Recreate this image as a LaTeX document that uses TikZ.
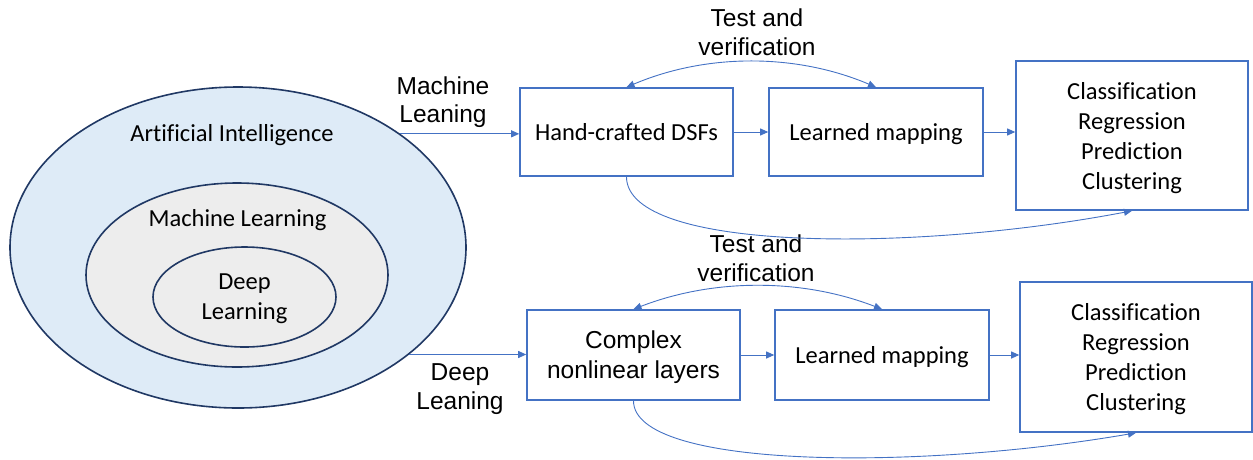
\documentclass[tikz,border=0pt]{standalone}
\usepackage{fontspec}
\setmainfont{Carlito}[Ligatures=CommonOff]
\newfontfamily\arialfont{Liberation Sans}[Ligatures=CommonOff]
\usetikzlibrary{shapes.geometric,arrows.meta}
\definecolor{boxblue}{HTML}{4472C4}
\definecolor{ringnavy}{HTML}{203864}
\definecolor{aifill}{HTML}{DEEBF7}
\definecolor{mlfill}{HTML}{EDEDED}

\begin{document}
\begin{tikzpicture}[x=1pt, y=-1pt, >={Triangle[length=8pt,width=7pt]},
  every node/.style={font=\fontsize{24.5}{30}\selectfont, align=center},
  ring/.style={ellipse, draw=ringnavy, line width=1.6pt, inner sep=0pt},
  stage/.style={draw=boxblue, line width=1.6pt, minimum height=88pt, inner sep=0pt, text depth=0pt},
  flow/.style={draw=boxblue, line width=0.9pt},
  lab/.style={font=\arialfont\fontsize{24.5}{28.5}\selectfont}]
\useasboundingbox (0,0) rectangle (1253,459);

% nested sets
\node[ring, fill=aifill, minimum width=456pt, minimum height=321pt] (ai) at (238,247.5) {};
\node[ring, fill=mlfill, minimum width=302pt, minimum height=184pt] (ml) at (237,275) {};
\node[ring, text depth=0pt, fill=mlfill, minimum width=183pt, minimum height=100pt] (dl) at (244.5,297) {Deep\\Learning};
\node (aitxt) at (232,135.5) {Artificial Intelligence};
\node (mltxt) at (237.5,220) {Machine Learning};

% upper pipeline
\node[stage, minimum width=213pt] (hand) at (626.5,132) {Hand-crafted DSFs};
\node[stage, minimum width=214pt] (map1) at (876,132) {Learned mapping};
\node[stage, minimum width=232pt, minimum height=149pt] (out1) at (1132,135.5)
  {Classification\\Regression\\Prediction\\Clustering};

% lower pipeline
\node[stage, minimum width=213pt, minimum height=90pt] (cnl) at (633.5,355)
  {\arialfont Complex\\\arialfont nonlinear layers};
\node[stage, minimum width=214pt, minimum height=90pt] (map2) at (882,355) {Learned mapping};
\node[stage, minimum width=232pt, minimum height=150pt] (out2) at (1136,357)
  {Classification\\Regression\\Prediction\\Clustering};

% labels
\node[lab] (mltag) at (443,102) {Machine\\Leaning};
\node[lab] (dltag) at (460,389) {Deep\\Leaning};
\node[lab] (tv1) at (757,32) {Test and\\verification};
\node[lab] (tv2) at (756,258) {Test and\\verification};

% connectors
\draw[flow,->] (ai.35) -- (ai.35 -| hand.west);
\draw[flow,->] (hand) -- (map1);
\draw[flow,->] (map1.east) -- (map1.east -| out1.west);
\draw[flow,<->] (hand.north) .. controls +(80,-34) and +(-80,-34) .. (map1.north);
\draw[flow,->] (hand.south) .. controls +(0,75) and +(-220,42) .. (out1.south);

\draw[flow,->] (ai.-32) -- (ai.-32 -| cnl.west);
\draw[flow,->] (cnl) -- (map2);
\draw[flow,->] (map2.east) -- (map2.east -| out2.west);
\draw[flow,<->] (cnl.north) .. controls +(80,-31) and +(-80,-31) .. (map2.north);
\draw[flow,->] (cnl.south) .. controls +(0,68) and +(-220,38) .. (out2.south);
\end{tikzpicture}
\end{document}
